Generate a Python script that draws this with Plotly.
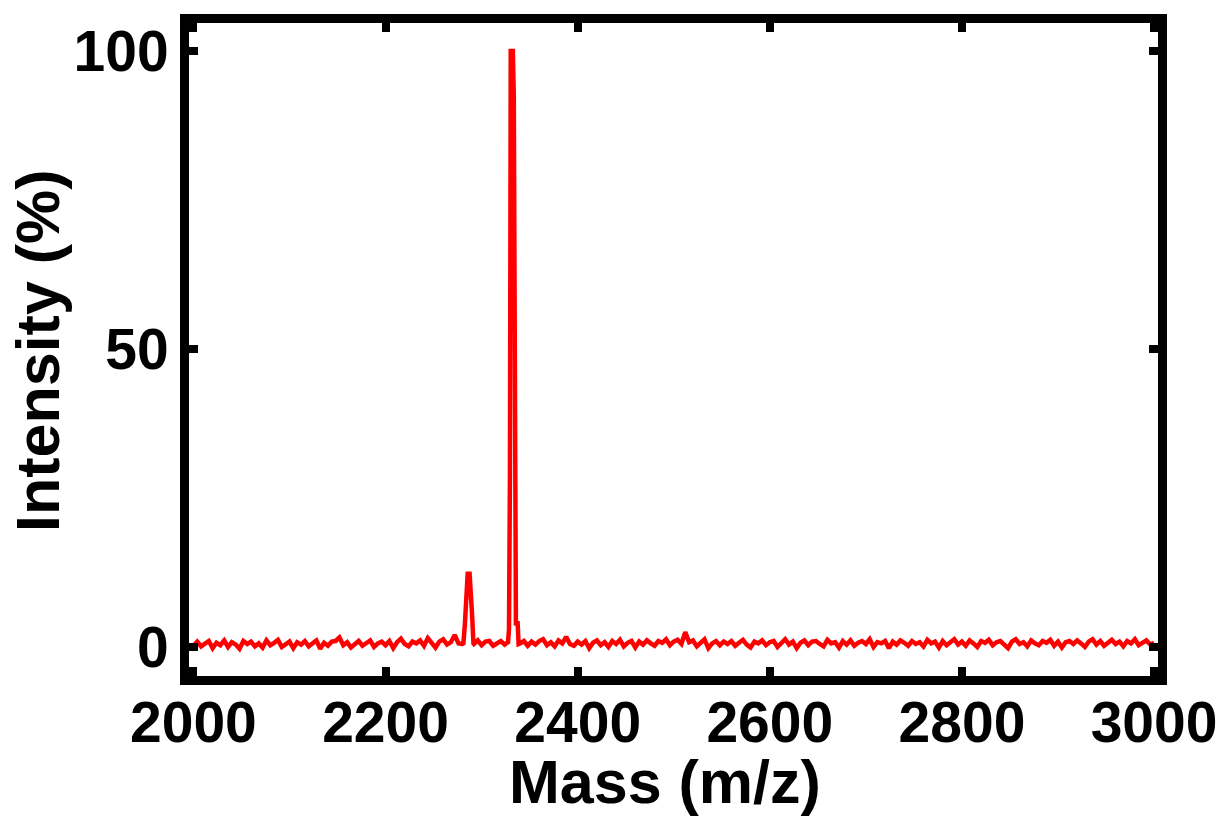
import plotly.graph_objects as go

# ---- data ----
baseline_start = 2000
baseline_step = 4
baseline_intensity = [
    0.2, 0.9, 0.1, 0.6, 1.0, -0.2, 0.7, 0.3, 1.1, 0.0,
    0.8, 0.4, -0.3, 1.0, 0.5, 0.9, 0.1, 0.6, -0.1, 1.1,
    0.3, 0.7, 1.2, 0.0, 0.5, 0.9, -0.2, 0.8, 0.4, 1.0,
    0.1, 0.6, 1.1, -0.3, 0.7, 0.2, 0.9, 1.0, 1.6, 0.3,
    0.8, -0.1, 0.5, 1.0, 0.2, 0.7, 1.1, 0.0, 0.6, 0.9,
    0.3, 1.0, -0.2, 0.8, 1.4, 0.5, 0.1, 0.9, 0.6, 1.1,
    0.2, 1.5, 0.7, -0.1, 0.9, 1.3, 0.4, 0.8, 2.0, 0.6,
    0.5, 0.5, 0.5, 0.5, 1.1, 0.3, 0.9, 1.0, 0.2, 0.7,
    1.0, 0.4, 0.5, 0.5, 0.5, 0.6, 1.0, 0.2, 0.9, 0.4,
    1.0, 1.3, 0.3, 0.8, 0.1, 1.1, 0.6, 1.7, 0.5, 0.2,
    0.9, 0.4, 1.0, -0.2, 0.7, 1.1, 0.3, 0.8, 0.0, 1.0,
    0.5, 1.2, 0.1, 0.7, 1.0, -0.1, 0.9, 0.4, 1.1, 0.6,
    0.2, 1.0, 0.7, 1.3, 0.3, 0.9, 1.2, 0.5, 2.5, 0.8,
    1.1, 0.1, 0.8, 1.3, -0.2, 0.6, 1.0, 0.3, 0.9, 0.5,
    1.0, 0.2, 0.7, 1.2, 0.4, -0.1, 0.9, 0.6, 1.1, 0.3,
    0.8, 1.0, 0.0, 0.6, 1.3, 0.4, 0.9, -0.2, 0.7, 1.1,
    0.3, 0.9, 1.0, 0.5, 0.1, 1.2, 0.6, 0.8, -0.1, 1.0,
    0.4, 1.1, 0.2, 0.7, 1.0, 0.5, 1.3, 0.0, 0.8, 0.6,
    1.0, -0.2, 0.9, 0.4, 1.1, 0.7, 0.2, 1.0, 0.5, 0.8,
    0.1, 1.2, 0.6, 0.9, -0.1, 1.0, 0.3, 0.8, 1.3, 0.4,
    0.9, 0.2, 1.1, 0.6, 0.0, 1.0, 0.7, 1.2, 0.3, 0.8,
    1.0, 0.4, -0.2, 0.9, 1.3, 0.5, 0.8, 0.1, 1.1, 0.6,
    0.3, 1.0, 0.7, 1.2, 0.2, 0.9, -0.1, 0.8, 1.0, 0.5,
    1.1, 0.6, 0.0, 0.9, 1.3, 0.4, 1.0, 0.2, 0.7, 1.2,
    0.5, 0.9, 0.1, 1.0, 0.6, 1.3, 0.3, 0.8, 1.1, 0.4,
    0.7,
]

peak1_mass = [2281, 2282.5, 2284, 2285.5, 2287.5, 2289, 2290, 2291.5]
peak1_intensity = [0.6, 3.6, 9.6, 12.3, 12.3, 5.8, 5.6, 0.6]

peak2_mass = [2327.5, 2328.5, 2329.5, 2330.3, 2332.5, 2333.5, 2334.7, 2335.7, 2337.5, 2338.5]
peak2_intensity = [0.8, 3.0, 29.0, 100.0, 100.0, 92.5, 35.0, 4.0, 4.0, 0.5]

x_tick_vals = [2000, 2200, 2400, 2600, 2800, 3000]
y_tick_vals = [0, 50, 100]

# ---- merge the baseline grid with the peak regions ----
points = []
windows = [(min(peak1_mass), max(peak1_mass)), (min(peak2_mass), max(peak2_mass))]
for i, v in enumerate(baseline_intensity):
    m = baseline_start + i * baseline_step
    if any(lo <= m <= hi for lo, hi in windows):
        continue
    points.append((m, v))
points += list(zip(peak1_mass, peak1_intensity))
points += list(zip(peak2_mass, peak2_intensity))
points.sort()
mass = [p[0] for p in points]
intensity = [p[1] for p in points]

FONT = "Liberation Sans, Arial, sans-serif"

fig = go.Figure()
fig.add_trace(go.Scatter(x=mass, y=intensity, mode="lines",
                         line=dict(color="#ff0000", width=4.5), showlegend=False))

axis_common = dict(
    showline=True, linewidth=9, linecolor="black", mirror="ticks",
    ticks="inside", ticklen=9, tickwidth=8, tickcolor="black",
    showgrid=False, zeroline=False,
    tickfont=dict(family=FONT, size=57, color="black", weight="bold"),
)

fig.update_layout(
    width=1229, height=823,
    margin=dict(l=189, r=66, t=23, b=147),
    paper_bgcolor="white", plot_bgcolor="white",
    xaxis=dict(range=[1995.4, 3004.1], tickvals=x_tick_vals,
               ticklabelstandoff=-11, **axis_common),
    yaxis=dict(range=[-4.87, 104.7], tickvals=y_tick_vals, **axis_common),
    annotations=[
        dict(text="Mass (m/z)", xref="paper", yref="paper", x=0.491, y=-0.162,
             xanchor="center", yanchor="middle", showarrow=False,
             font=dict(family=FONT, size=61, color="black", weight="bold")),
        dict(text="Intensity (%)", xref="paper", yref="paper", x=-0.156, y=0.499,
             xanchor="center", yanchor="middle", textangle=-90, showarrow=False,
             font=dict(family=FONT, size=61, color="black", weight="bold")),
    ],
)

fig.write_html("out.html")
